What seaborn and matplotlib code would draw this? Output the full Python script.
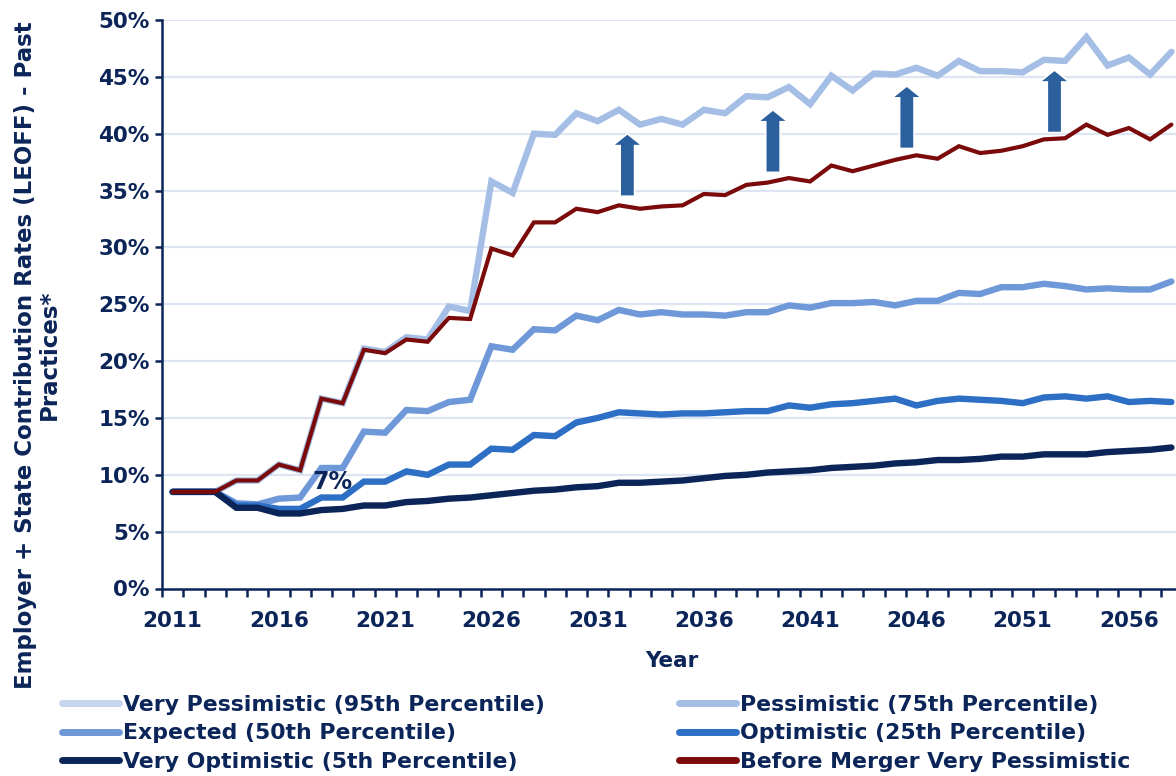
import pandas as pd
import seaborn as sns
import matplotlib

matplotlib.use("Agg")
import matplotlib.pyplot as plt
from matplotlib.lines import Line2D
from matplotlib.patches import FancyArrow
from matplotlib.ticker import FixedLocator, FuncFormatter

# data, rates in percent, 2011..2058
years = list(range(2011, 2059))

pessimistic = [
    8.5, 8.5, 8.5, 9.5, 9.5, 10.9, 10.4, 16.7, 16.3, 21.1,
    20.8, 22.1, 21.9, 24.8, 24.4, 35.8, 34.8, 40.0, 39.9, 41.8,
    41.1, 42.1, 40.8, 41.3, 40.8, 42.1, 41.8, 43.3, 43.2, 44.1,
    42.6, 45.1, 43.8, 45.3, 45.2, 45.8, 45.1, 46.4, 45.5, 45.5,
    45.4, 46.5, 46.4, 48.5, 46.0, 46.7, 45.2, 47.2,
]
expected = [
    8.5, 8.5, 8.5, 7.5, 7.4, 7.9, 8.0, 10.6, 10.6, 13.8,
    13.7, 15.7, 15.6, 16.4, 16.6, 21.3, 21.0, 22.8, 22.7, 24.0,
    23.6, 24.5, 24.1, 24.3, 24.1, 24.1, 24.0, 24.3, 24.3, 24.9,
    24.7, 25.1, 25.1, 25.2, 24.9, 25.3, 25.3, 26.0, 25.9, 26.5,
    26.5, 26.8, 26.6, 26.3, 26.4, 26.3, 26.3, 27.0,
]
optimistic = [
    8.5, 8.5, 8.5, 7.3, 7.3, 7.0, 7.0, 8.0, 8.0, 9.4,
    9.4, 10.3, 10.0, 10.9, 10.9, 12.3, 12.2, 13.5, 13.4, 14.6,
    15.0, 15.5, 15.4, 15.3, 15.4, 15.4, 15.5, 15.6, 15.6, 16.1,
    15.9, 16.2, 16.3, 16.5, 16.7, 16.1, 16.5, 16.7, 16.6, 16.5,
    16.3, 16.8, 16.9, 16.7, 16.9, 16.4, 16.5, 16.4,
]
very_optimistic = [
    8.5, 8.5, 8.5, 7.1, 7.1, 6.6, 6.6, 6.9, 7.0, 7.3,
    7.3, 7.6, 7.7, 7.9, 8.0, 8.2, 8.4, 8.6, 8.7, 8.9,
    9.0, 9.3, 9.3, 9.4, 9.5, 9.7, 9.9, 10.0, 10.2, 10.3,
    10.4, 10.6, 10.7, 10.8, 11.0, 11.1, 11.3, 11.3, 11.4, 11.6,
    11.6, 11.8, 11.8, 11.8, 12.0, 12.1, 12.2, 12.4,
]
before_merger = [
    8.5, 8.5, 8.5, 9.5, 9.5, 10.9, 10.4, 16.7, 16.3, 21.0,
    20.7, 21.9, 21.7, 23.8, 23.7, 29.9, 29.3, 32.2, 32.2, 33.4,
    33.1, 33.7, 33.4, 33.6, 33.7, 34.7, 34.6, 35.5, 35.7, 36.1,
    35.8, 37.2, 36.7, 37.2, 37.7, 38.1, 37.8, 38.9, 38.3, 38.5,
    38.9, 39.5, 39.6, 40.8, 39.9, 40.5, 39.5, 40.8,
]

# arrow annotations: (year, start, end)
arrows = [(2032.4, 34.5, 40.0), (2039.25, 36.6, 42.1), (2045.55, 38.7, 44.2), (2052.5, 40.1, 45.6)]

navy = "#0B2559"
colors = {
    "Very Pessimistic (95th Percentile)": "#C5D5EE",
    "Pessimistic (75th Percentile)": "#A4BEE5",
    "Expected (50th Percentile)": "#6F98D8",
    "Optimistic (25th Percentile)": "#2D6FC4",
    "Very Optimistic (5th Percentile)": navy,
    "Before Merger Very Pessimistic": "#7B0A0A",
}

df = pd.DataFrame({
    "Year": years,
    "Pessimistic (75th Percentile)": pessimistic,
    "Expected (50th Percentile)": expected,
    "Optimistic (25th Percentile)": optimistic,
    "Very Optimistic (5th Percentile)": very_optimistic,
    "Before Merger Very Pessimistic": before_merger,
})

sns.set_style("white")
plt.rcParams["font.family"] = ["DejaVu Sans"]
plt.rcParams["font.weight"] = "bold"

W, H = 1176, 776
fig = plt.figure(figsize=(W / 100, H / 100), dpi=100)
ax = fig.add_axes([162 / W, 1 - 588.5 / H, (1182 - 162) / W, (588.5 - 20) / H])

for y in range(5, 55, 5):
    ax.axhline(y, color="#DDE4F2", lw=1.6, zorder=0)

widths = {"Before Merger Very Pessimistic": 3.0}
for col in df.columns[1:]:
    sns.lineplot(
        data=df, x="Year", y=col, ax=ax, color=colors[col],
        lw=widths.get(col, 4.6), solid_capstyle="round", solid_joinstyle="miter",
        zorder=3,
    )

for x, y0, y1 in arrows:
    ax.add_patch(FancyArrow(
        x, y0, 0, y1 - y0, width=0.68, head_width=1.4, head_length=1.05,
        length_includes_head=True, facecolor="#2B5F9E", edgecolor="white",
        lw=1.2, zorder=4,
    ))

ax.text(2018.5, 9.4, "7%", color=navy, fontsize=17, fontweight="bold",
        ha="center", va="center", zorder=5)

ax.set_xlim(2010.5, 2058.5)
ax.set_ylim(0, 50)
sns.despine(ax=ax)
for s in ["left", "bottom"]:
    ax.spines[s].set_color(navy)
    ax.spines[s].set_linewidth(1.8)

ax.yaxis.set_major_locator(FixedLocator(range(0, 55, 5)))
ax.yaxis.set_major_formatter(FuncFormatter(lambda v, p: f"{v:.0f}%"))
ax.tick_params(axis="y", left=True, direction="out", length=5, width=1.8,
               color=navy, labelcolor=navy, labelsize=15.5, pad=4)

ax.xaxis.set_major_locator(FixedLocator(list(range(2011, 2059, 5))))
ax.xaxis.set_minor_locator(FixedLocator([y - 0.5 for y in range(2011, 2060)]))
ax.xaxis.set_major_formatter(FuncFormatter(lambda v, p: f"{v:.0f}"))
ax.tick_params(axis="x", which="major", bottom=True, length=0, pad=16,
               labelcolor=navy, labelsize=15.5)
ax.tick_params(axis="x", which="minor", bottom=True, direction="out", length=6,
               width=1.8, color=navy)

ax.set_xlabel("")
ax.set_ylabel("")
fig.text(672 / W, 1 - 661 / H, "Year", color=navy, fontsize=15.5, fontweight="bold",
         ha="center", va="center")
fig.text(37 / W, 1 - 355 / H,
         "Employer + State Contribution Rates (LEOFF) - Past\nPractices*",
         color=navy, fontsize=16.5, fontweight="bold", rotation=90,
         ha="center", va="center", multialignment="center", linespacing=1.05)

names = list(colors.keys())
left_names = [names[0], names[2], names[4]]
right_names = [names[1], names[3], names[5]]
for group, x0 in [(left_names, 62), (right_names, 679)]:
    handles = [Line2D([], [], color=colors[n], lw=5, solid_capstyle="round") for n in group]
    leg = fig.legend(handles, group, loc="upper left",
                     bbox_to_anchor=(x0 / W, 1 - 695 / H), frameon=False,
                     fontsize=15.8, handlelength=2.6, handletextpad=0.2,
                     labelspacing=0.38, borderpad=0, borderaxespad=0)
    for t in leg.get_texts():
        t.set_color(navy)
        t.set_fontweight("bold")

fig.savefig("out.png", dpi=100)
